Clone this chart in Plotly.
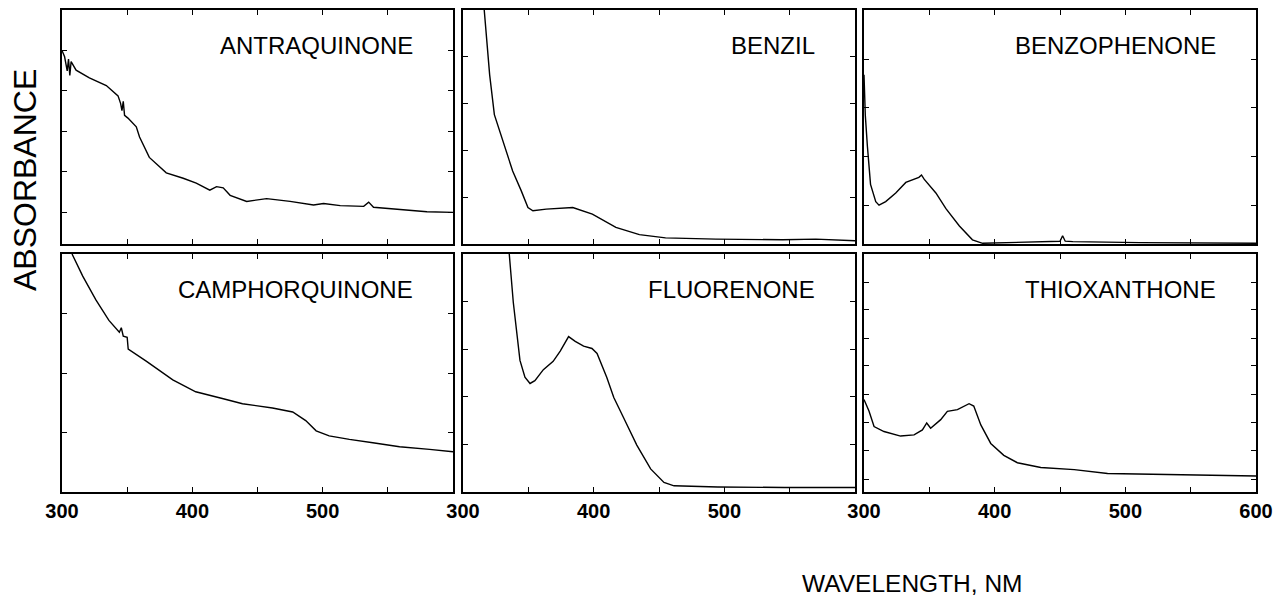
import plotly.graph_objects as go

# ---------------- data (normalised absorbance, 0 = panel bottom, 1 = panel top) ----------------
names = ["ANTRAQUINONE", "BENZIL", "BENZOPHENONE", "CAMPHORQUINONE", "FLUORENONE", "THIOXANTHONE"]

antra_x = [300, 302, 304, 305, 306, 307, 308, 310.8, 321, 334, 343, 345, 346, 347, 348, 350.6, 357, 359.5, 367, 380,
           393, 403, 413.4, 418.6, 423.7, 429, 441.7, 457, 475, 493, 500.7, 513.5, 531.5, 535.3, 539, 560, 580, 600]
antra_y = [0.827, 0.80, 0.74, 0.79, 0.72, 0.78, 0.77, 0.743, 0.710, 0.677, 0.633, 0.60, 0.57, 0.61, 0.55, 0.538, 0.501,
           0.457, 0.370, 0.304, 0.281, 0.260, 0.230, 0.245, 0.240, 0.208, 0.182, 0.194, 0.182, 0.167, 0.173, 0.164,
           0.161, 0.179, 0.157, 0.147, 0.138, 0.135]

benzil_x = [315.5, 317.8, 320.4, 324, 330.6, 338, 344.6, 349.7, 353.5, 363.7, 384, 399, 417, 435, 455, 493.6, 544.5,
            570, 600]
benzil_y = [1.05, 0.908, 0.723, 0.553, 0.440, 0.312, 0.227, 0.156, 0.142, 0.149, 0.156, 0.128, 0.071, 0.040, 0.026,
            0.021, 0.018, 0.021, 0.014]

benzo_x = [300, 301, 302.6, 305, 309, 311.5, 316.6, 324.3, 332, 342, 344, 346, 355, 362.7, 373, 383, 390.8, 408.7,
           434, 450, 452, 454, 459.8, 511, 600]
benzo_y = [0.723, 0.55, 0.418, 0.255, 0.181, 0.166, 0.181, 0.218, 0.263, 0.285, 0.295, 0.277, 0.218, 0.151, 0.077,
           0.018, 0.003, 0.006, 0.010, 0.012, 0.035, 0.012, 0.010, 0.006, 0.003]

campho_x = [307.7, 315.9, 326, 336, 344, 345.5, 347, 350, 350.8, 364.6, 385, 402.6, 423, 438.5, 461.5, 477, 487, 495,
            505, 520.5, 538.5, 559, 582, 600]
campho_y = [1.0, 0.907, 0.807, 0.721, 0.671, 0.690, 0.655, 0.650, 0.600, 0.550, 0.471, 0.421, 0.393, 0.371, 0.353,
            0.336, 0.300, 0.257, 0.236, 0.221, 0.207, 0.190, 0.179, 0.169]

fluor_x = [335.4, 338.5, 343.6, 347.4, 351.3, 355, 361.5, 369, 374.4, 380.8, 385.9, 392.3, 398.7, 402.6, 410, 415.4,
           423, 433, 443.6, 453.8, 461.5, 495, 546, 600]
fluor_y = [1.0, 0.796, 0.553, 0.482, 0.456, 0.468, 0.514, 0.549, 0.592, 0.653, 0.633, 0.613, 0.603, 0.582, 0.482,
           0.397, 0.311, 0.197, 0.097, 0.040, 0.026, 0.021, 0.019, 0.019]

thiox_x = [300, 303.8, 307.7, 315.3, 328, 338.3, 344.7, 348, 351, 358.7, 363.8, 371.5, 380.4, 384, 389.4, 397, 407,
           417.4, 435.3, 460.9, 486.4, 524.7, 563, 600]
thiox_y = [0.389, 0.340, 0.275, 0.254, 0.235, 0.240, 0.261, 0.290, 0.268, 0.304, 0.339, 0.346, 0.371, 0.361, 0.282,
           0.204, 0.154, 0.123, 0.103, 0.094, 0.078, 0.074, 0.068, 0.067]

xs = [antra_x, benzil_x, benzo_x, campho_x, fluor_x, thiox_x]
ys = [antra_y, benzil_y, benzo_y, campho_y, fluor_y, thiox_y]

# y tick positions per panel (arbitrary absorbance marks)
ytick_sets = [
    [0.135, 0.308, 0.481, 0.654, 0.827],
    [0.2, 0.4, 0.6, 0.8],
    [0.166, 0.374, 0.582, 0.790],
    [0.25, 0.5, 0.75],
    [0.2, 0.4, 0.6, 0.8],
    [0.054, 0.175, 0.290, 0.411, 0.531, 0.646, 0.765, 0.882],
]

x_tickvals = [300, 350, 400, 450, 500, 550, 600]
x_ticktext_mid = ["300", "", "400", "", "500", "", ""]
x_ticktext_last = ["300", "", "400", "", "500", "", "600"]

# ---------------- layout geometry (screen pixels) ----------------
W, H = 1273, 598
cols_px = [(62, 453), (463, 855), (864, 1256)]
rows_px = [(10, 244), (254, 492)]


def px(v):
    return v / W


def py(v):
    return 1 - v / H


fig = go.Figure()
FONT = "Liberation Sans, Arial, sans-serif"

for i in range(6):
    r, c = divmod(i, 3)
    n = i + 1
    xa = "x" if n == 1 else f"x{n}"
    ya = "y" if n == 1 else f"y{n}"
    fig.add_trace(go.Scatter(x=xs[i], y=ys[i], mode="lines", xaxis=xa, yaxis=ya,
                             line=dict(color="black", width=1.4), showlegend=False, hoverinfo="skip"))
    x0, x1 = cols_px[c]
    y0, y1 = rows_px[r]
    xkey = "xaxis" if n == 1 else f"xaxis{n}"
    ykey = "yaxis" if n == 1 else f"yaxis{n}"
    bottom = (r == 1)
    fig.layout[xkey] = dict(
        domain=[px(x0), px(x1)], range=[300, 600], anchor=ya, automargin=False,
        showline=True, linecolor="black", linewidth=1.8, mirror="allticks",
        ticks="inside", ticklen=5, tickwidth=1.3, tickcolor="black",
        tickvals=x_tickvals,
        ticktext=(x_ticktext_last if c == 2 else x_ticktext_mid),
        showticklabels=bottom,
        tickfont=dict(family=FONT, size=20, color="black", weight="bold"),
        showgrid=False, zeroline=False, fixedrange=True,
    )
    fig.layout[ykey] = dict(
        domain=[py(y1), py(y0)], range=[0, 1], anchor=xa, automargin=False,
        showline=True, linecolor="black", linewidth=1.8, mirror="allticks",
        ticks="inside", ticklen=5, tickwidth=1.3, tickcolor="black",
        tickvals=ytick_sets[i], showticklabels=False,
        showgrid=False, zeroline=False, fixedrange=True,
    )
    fig.add_annotation(x=px(x1 - 38), y=py(y0 + 35), xref="paper", yref="paper",
                       text=names[i], showarrow=False, xanchor="right", yanchor="middle",
                       font=dict(family=FONT, size=24, color="black"))

fig.add_annotation(x=px(25), y=py(180), xref="paper", yref="paper", text="ABSORBANCE",
                   showarrow=False, textangle=-90, xanchor="center", yanchor="middle",
                   font=dict(family=FONT, size=32, color="black"))
fig.add_annotation(x=px(912), y=py(583), xref="paper", yref="paper", text="WAVELENGTH, NM",
                   showarrow=False, xanchor="center", yanchor="middle",
                   font=dict(family=FONT, size=24.5, color="black"))

fig.update_layout(width=W, height=H, margin=dict(l=0, r=0, t=0, b=0), autosize=False,
                  paper_bgcolor="white", plot_bgcolor="white")

fig.write_html("out.html", config={"displayModeBar": False},
               post_script="document.body.style.margin='0';document.body.style.overflow='hidden';")
